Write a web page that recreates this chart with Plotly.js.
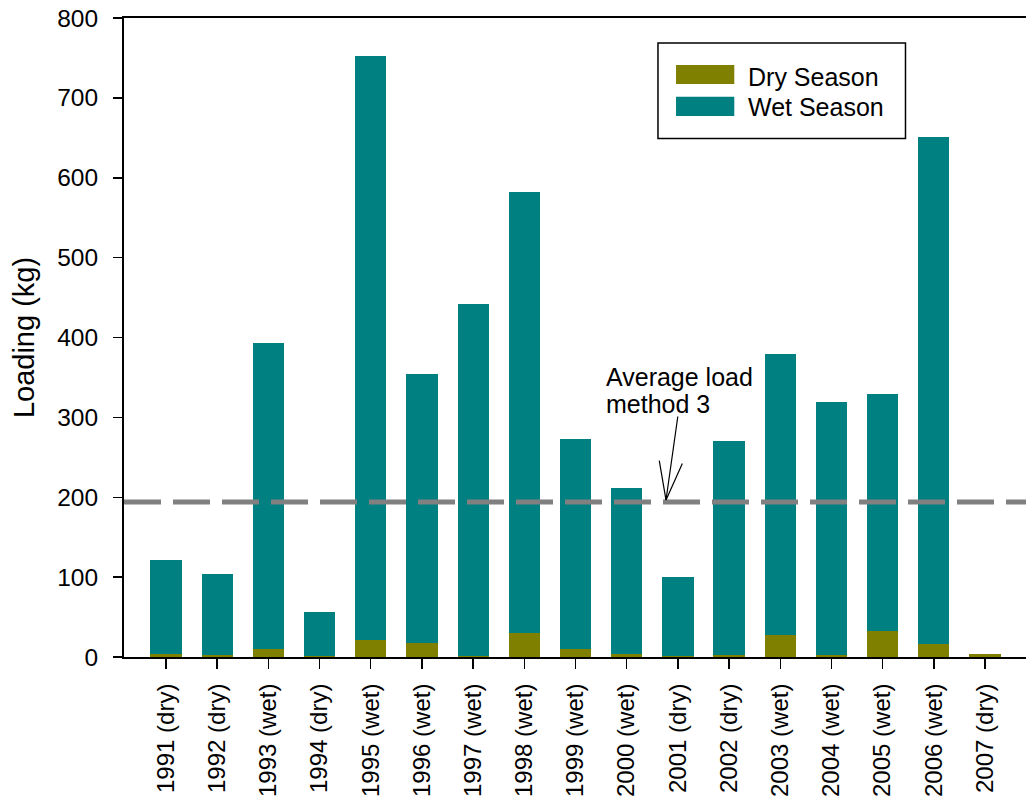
<!DOCTYPE html>
<html>
<head>
<meta charset="utf-8">
<script src="https://cdn.plot.ly/plotly-3.0.1.min.js"></script>
<style>html,body{margin:0;padding:0;background:#fff;}#chart{width:1026px;height:797px;}</style>
</head>
<body>
<div id="chart"></div>
<script>
// ---- data ----
const categories = ["1991 (dry)","1992 (dry)","1993 (wet)","1994 (dry)","1995 (wet)","1996 (wet)","1997 (wet)","1998 (wet)","1999 (wet)","2000 (wet)","2001 (dry)","2002 (dry)","2003 (wet)","2004 (wet)","2005 (wet)","2006 (wet)","2007 (dry)"];
const drySeason = [4, 3, 10, 1.5, 21, 18, 1, 30, 10.5, 4, 1.5, 3, 27, 3, 32, 16, 3.5];
const wetSeason = [118, 101.5, 383, 55, 732, 336, 441, 552, 262.5, 207.5, 98.5, 267, 352, 316.5, 297, 635, 0];
const averageLoad = 194;
const seriesNames = ["Dry Season", "Wet Season"];
const annotationLines = ["Average load", "method 3"];
const yTickVals = [0, 100, 200, 300, 400, 500, 600, 700, 800];

const FONT = '"Liberation Sans", Arial, sans-serif';
const DRY = '#808000';
const WET = '#008080';

const traces = [
  {type: 'bar', name: seriesNames[0], x: categories, y: drySeason, marker: {color: DRY}, width: 0.61, showlegend: false, hoverinfo: 'x+y+name'},
  {type: 'bar', name: seriesNames[1], x: categories, y: wetSeason, marker: {color: WET}, width: 0.61, showlegend: false, hoverinfo: 'x+y+name'}
];

const tipX = 9.768;
const layout = {
  width: 1026, height: 797,
  margin: {l: 124, r: 0, t: 18, b: 140, pad: 0},
  paper_bgcolor: '#fff', plot_bgcolor: '#fff',
  barmode: 'stack',
  showlegend: false,
  font: {family: FONT, size: 24, color: '#000'},
  xaxis: {
    type: 'category', range: [-0.82, 16.8], autorange: false,
    tickangle: -90, ticks: 'outside', ticklen: 10, tickwidth: 1.5, tickcolor: '#000',
    showline: true, linewidth: 2, linecolor: '#000', mirror: true,
    showgrid: false, zeroline: false, automargin: false,
    tickfont: {family: FONT, size: 24, color: '#000'}, ticklabelstandoff: 5
  },
  yaxis: {
    range: [0, 800], autorange: false, tickvals: yTickVals,
    ticks: 'outside', ticklen: 9, tickwidth: 1.5, tickcolor: '#000',
    showline: true, linewidth: 2, linecolor: '#000',
    showgrid: false, zeroline: false, automargin: false,
    tickfont: {family: FONT, size: 24.5, color: '#000'}, ticklabelstandoff: 10,
    title: {text: 'Loading (kg)', font: {family: FONT, size: 29, color: '#000'}, standoff: 14}
  },
  shapes: [
    {type: 'line', xref: 'paper', yref: 'y', x0: 0, x1: 1, y0: averageLoad, y1: averageLoad,
     line: {color: '#808080', width: 5, dash: '37px,12px'}, layer: 'above'},
    // custom legend
    {type: 'rect', xref: 'paper', yref: 'paper', x0: 0.592, x1: 0.8664, y0: 0.8114, y1: 0.9609,
     line: {color: '#000', width: 1.5}, fillcolor: '#fff', layer: 'above'},
    {type: 'rect', xref: 'paper', yref: 'paper', x0: 0.612, x1: 0.6766, y0: 0.8967, y1: 0.9264,
     line: {width: 0}, fillcolor: DRY, layer: 'above'},
    {type: 'rect', xref: 'paper', yref: 'paper', x0: 0.612, x1: 0.6766, y0: 0.8466, y1: 0.8768,
     line: {width: 0}, fillcolor: WET, layer: 'above'}
  ],
  annotations: [
    {xref: 'paper', yref: 'paper', x: 0.6896, y: 0.9083, xanchor: 'left', yanchor: 'middle', text: seriesNames[0], showarrow: false, font: {family: FONT, size: 25, color: '#000'}},
    {xref: 'paper', yref: 'paper', x: 0.6896, y: 0.8613, xanchor: 'left', yanchor: 'middle', text: seriesNames[1], showarrow: false, font: {family: FONT, size: 25, color: '#000'}},
    {xref: 'x', yref: 'y', x: 8.56, y: 351.1, xanchor: 'left', yanchor: 'middle', text: annotationLines[0], showarrow: false, font: {family: FONT, size: 25, color: '#000'}},
    {xref: 'x', yref: 'y', x: 8.56, y: 316.4, xanchor: 'left', yanchor: 'middle', text: annotationLines[1], showarrow: false, font: {family: FONT, size: 25, color: '#000'}},
    {xref: 'x', yref: 'y', x: tipX, y: averageLoad, yshift: 2, text: '', showarrow: true, arrowhead: 0, arrowwidth: 1.2, arrowcolor: '#000', ax: 12, ay: -85, standoff: 0},
    {xref: 'x', yref: 'y', x: tipX, y: averageLoad, yshift: 2, text: '', showarrow: true, arrowhead: 0, arrowwidth: 1.2, arrowcolor: '#000', ax: -7, ay: -41, standoff: 0},
    {xref: 'x', yref: 'y', x: tipX, y: averageLoad, yshift: 2, text: '', showarrow: true, arrowhead: 0, arrowwidth: 1.2, arrowcolor: '#000', ax: 17, ay: -38, standoff: 0}
  ]
};

Plotly.newPlot('chart', traces, layout, {displayModeBar: false, staticPlot: true});
</script>
</body>
</html>
